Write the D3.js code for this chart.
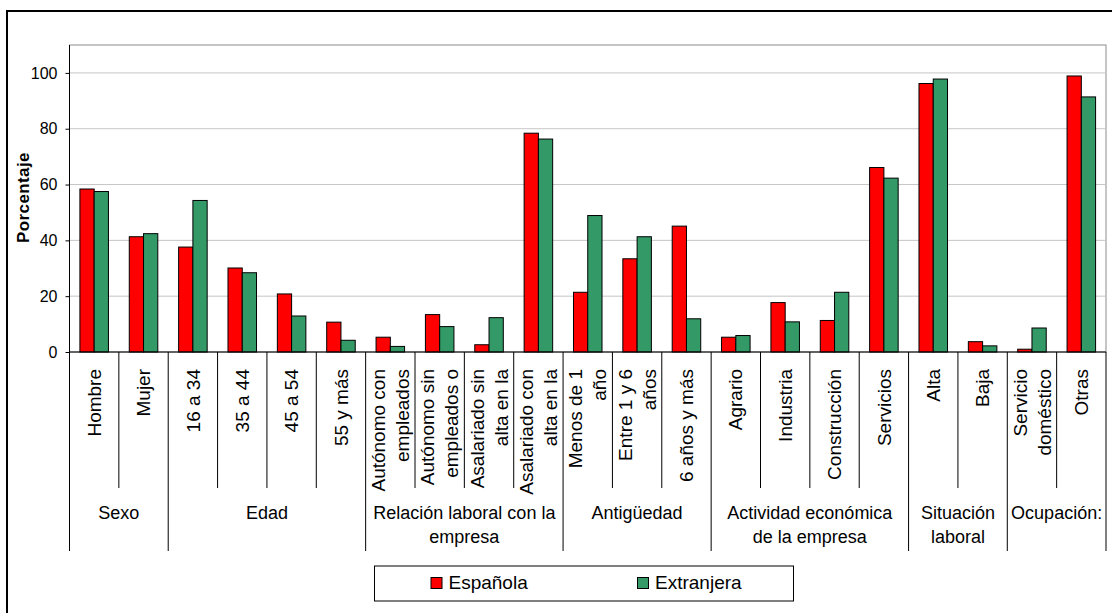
<!DOCTYPE html>
<html><head><meta charset="utf-8">
<script src="https://cdn.jsdelivr.net/npm/d3@7"></script>
<style>
html,body{margin:0;padding:0;background:#fff;}
svg{display:block;font-family:"Liberation Sans",Arial,sans-serif;}
</style></head>
<body>
<svg id="c" width="1112" height="613"></svg>
<script>
// ---- data ----
const categories = [
  ["Hombre"], ["Mujer"], ["16 a 34"], ["35 a 44"], ["45 a 54"], ["55 y más"],
  ["Autónomo con","empleados"], ["Autónomo sin","empleados o"],
  ["Asalariado sin","alta en la"], ["Asalariado con","alta en la"],
  ["Menos de 1","año"], ["Entre 1 y 6","años"], ["6 años y más"],
  ["Agrario"], ["Industria"], ["Construcción"], ["Servicios"],
  ["Alta"], ["Baja"], ["Servicio","doméstico"], ["Otras"]
];
const groupNames = [
  ["Sexo"], ["Edad"], ["Relación laboral con la","empresa"], ["Antigüedad"],
  ["Actividad económica","de la empresa"], ["Situación","laboral"], ["Ocupación:"]
];
const groupSizes = [2, 4, 4, 3, 4, 2, 2];
const seriesNames = ["Española", "Extranjera"];
const espanola  = [58.4, 41.3, 37.6, 30.1, 20.8, 10.7, 5.3, 13.4, 2.6, 78.4, 21.4, 33.4, 45.1, 5.3, 17.7, 11.3, 66.1, 96.2, 3.7, 1.0, 98.9];
const extranjera = [57.5, 42.4, 54.3, 28.4, 12.9, 4.2, 2.0, 9.1, 12.3, 76.3, 48.9, 41.3, 11.9, 5.9, 10.8, 21.4, 62.3, 97.8, 2.2, 8.6, 91.4];
const yTicks = [0, 20, 40, 60, 80, 100];
const colors = ["#FF0000", "#339966"];

// ---- layout ----
const svg = d3.select("#c");
const L = 69.5, R = 1106, T = 45, B = 352;
const subBottom = 488, groupBottom = 551;

const x = d3.scaleBand().domain(d3.range(categories.length)).range([L, R]).paddingInner(0).paddingOuter(0);
const bw = x.bandwidth();
const x1 = d3.scaleBand().domain([0, 1]).range([bw * 0.211, bw * 0.789]).padding(0);
const y = d3.scaleLinear().domain([0, 110]).range([B, T]);

// outer border
svg.append("rect").attr("x", 7).attr("y", 11).attr("width", 1120).attr("height", 620)
  .attr("fill", "none").attr("stroke", "#000").attr("stroke-width", 2);

// plot area border
svg.append("rect").attr("x", L).attr("y", T).attr("width", R - L).attr("height", B - T)
  .attr("fill", "#fff").attr("stroke", "#8c8c8c").attr("stroke-width", 1);

// gridlines
svg.append("g").selectAll("line").data(yTicks.filter(d => d > 0)).join("line")
  .attr("x1", L).attr("x2", R).attr("y1", d => y(d)).attr("y2", d => y(d))
  .attr("stroke", "#c6c6c6").attr("stroke-width", 1);

// bars
const series = [espanola, extranjera];
series.forEach((vals, s) => {
  svg.append("g").selectAll("rect").data(vals).join("rect")
    .attr("x", (d, i) => x(i) + x1(s))
    .attr("width", x1.bandwidth())
    .attr("y", d => y(d))
    .attr("height", d => y(0) - y(d))
    .attr("fill", colors[s]).attr("stroke", "#000").attr("stroke-width", 1);
});

// y axis
const yAxis = svg.append("g").attr("transform", `translate(${L},0)`)
  .call(d3.axisLeft(y).tickValues(yTicks).tickSize(4).tickPadding(8));
yAxis.select(".domain").remove();
yAxis.selectAll(".tick line").attr("stroke", "#000");
yAxis.selectAll("text").attr("font-size", 16).attr("fill", "#000")
  .attr("font-family", "Liberation Sans, Arial, sans-serif");
svg.append("line").attr("x1", L).attr("x2", L).attr("y1", T).attr("y2", groupBottom)
  .attr("stroke", "#000").attr("stroke-width", 1);

// x axis line
svg.append("line").attr("x1", L).attr("x2", R).attr("y1", B).attr("y2", B)
  .attr("stroke", "#000").attr("stroke-width", 1);

// y axis title
svg.append("text").attr("transform", `translate(28.5,197.5) rotate(-90)`)
  .attr("text-anchor", "middle").attr("font-size", 17).attr("font-weight", "bold")
  .attr("letter-spacing", 0.4).text("Porcentaje");

// group boundaries
const groupStarts = [];
let acc = 0;
groupSizes.forEach(n => { groupStarts.push(acc); acc += n; });
const groupBoundarySet = new Set(groupStarts.concat([categories.length]));

// category separators
const bounds = d3.range(categories.length + 1);
svg.append("g").selectAll("line").data(bounds).join("line")
  .attr("x1", i => i === categories.length ? R : x(i))
  .attr("x2", i => i === categories.length ? R : x(i))
  .attr("y1", B).attr("y2", i => groupBoundarySet.has(i) ? groupBottom : subBottom)
  .attr("stroke", "#000").attr("stroke-width", 1);

// category labels (rotated)
const catG = svg.append("g");
categories.forEach((lines, i) => {
  const cx = x(i) + bw / 2;
  const n = lines.length;
  lines.forEach((t, k) => {
    const off = (k - (n - 1) / 2) * 24;
    catG.append("text")
      .attr("transform", `translate(${cx + off},369) rotate(-90)`)
      .attr("text-anchor", "end").attr("dy", "0.35em")
      .attr("font-size", 19).attr("fill", "#000").text(t);
  });
});

// group labels
const grpG = svg.append("g");
groupNames.forEach((lines, g) => {
  const s = groupStarts[g], n = groupSizes[g];
  const cx = (x(s) + (s + n === categories.length ? R : x(s + n))) / 2;
  lines.forEach((t, k) => {
    grpG.append("text").attr("x", cx).attr("y", 518.5 + k * 24)
      .attr("text-anchor", "middle").attr("font-size", 18).attr("fill", "#000").text(t);
  });
});

// legend
const lg = svg.append("g");
lg.append("rect").attr("x", 374.5).attr("y", 566).attr("width", 419).attr("height", 35)
  .attr("fill", "#fff").attr("stroke", "#000").attr("stroke-width", 1);
const legendX = [431, 637.5];
seriesNames.forEach((name, s) => {
  lg.append("rect").attr("x", legendX[s]).attr("y", 577.5).attr("width", 11).attr("height", 11)
    .attr("fill", colors[s]).attr("stroke", "#000").attr("stroke-width", 1);
  lg.append("text").attr("x", legendX[s] + 17.5).attr("y", 588.5)
    .attr("font-size", 19).attr("fill", "#000").text(name);
});
</script>
</body></html>
